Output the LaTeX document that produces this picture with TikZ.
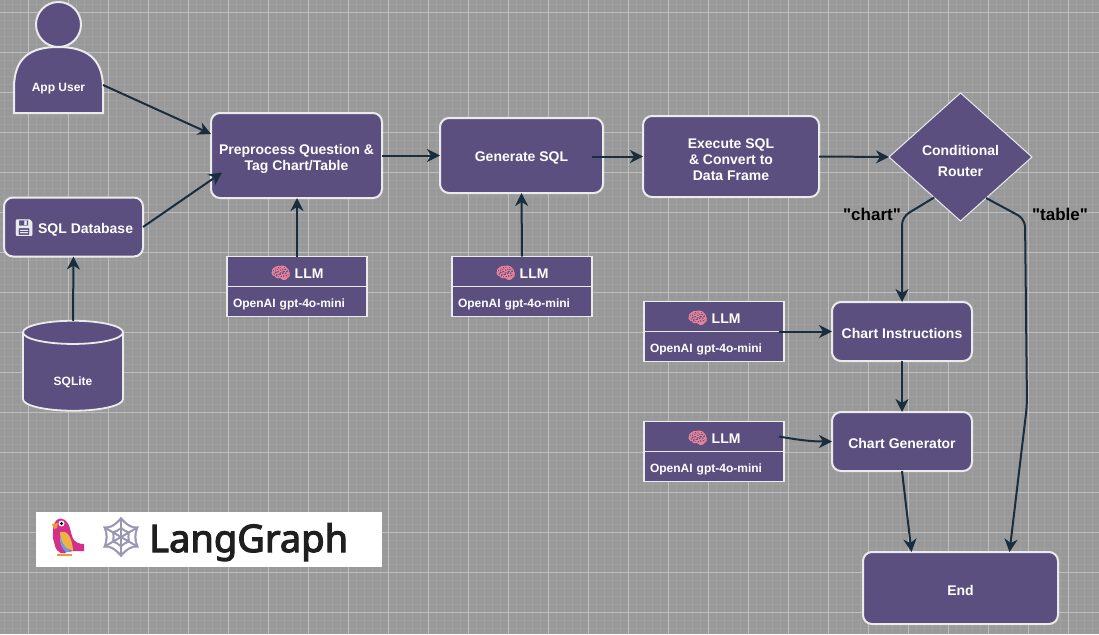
\documentclass[tikz,border=0pt]{standalone}
\usepackage{fontspec}
\setmainfont{Liberation Sans}
\newfontfamily\notefont{Liberation Sans}
\newfontfamily\emojifont{Noto Emoji}
\newfontfamily\boldemoji[FakeBold=2.5]{Noto Emoji}
\newfontfamily\webfont[FakeBold=1]{Noto Emoji}
\newfontfamily\logofont[FakeBold=3]{Noto Sans}
\usetikzlibrary{positioning,arrows.meta,calc,shapes.geometric}
\definecolor{lgPurple}{RGB}{90,79,127}
\definecolor{lgArrow}{RGB}{24,46,62}
\definecolor{lgGround}{RGB}{153,153,153}
\definecolor{lgMinor}{RGB}{160,160,160}
\definecolor{lgMajor}{RGB}{190,190,190}
\definecolor{lgEdge}{RGB}{235,235,235}
\definecolor{lgBrain}{RGB}{232,130,155}
\definecolor{lgWeb}{RGB}{152,150,178}
\definecolor{lgPink}{RGB}{213,47,140}
\definecolor{lgWing}{RGB}{238,180,65}
\definecolor{lgBlue}{RGB}{100,160,235}
\definecolor{lgBeak}{RGB}{240,150,50}
\newcommand{\brain}{{\fontsize{16}{16}\selectfont\boldemoji\color{lgBrain}\symbol{"1F9E0}}}
\begin{document}
\begin{tikzpicture}[
    x=1pt, y=-1pt,
    main node/.style={rectangle, rounded corners=9pt, draw=lgEdge, line width=2pt, fill=lgPurple, text=white, font=\fontsize{14}{16}\selectfont\bfseries, align=center, outer sep=0pt, text height=15pt},
    llm head/.style={rectangle, draw=lgEdge, line width=1.8pt, fill=lgPurple, text=white, minimum width=140pt, minimum height=30pt, font=\fontsize{14}{16}\selectfont\bfseries, outer sep=0pt, text height=15pt},
    llm body/.style={llm head, font=\fontsize{12}{14}\selectfont\bfseries, text width=128pt, align=left, text height=14pt},
    flow/.style={-{Stealth[length=13pt, width=13pt, inset=4pt]}, draw=lgArrow, line width=2pt},
    branch note/.style={font=\fontsize{17}{18}\selectfont\notefont\bfseries, text=black, inner sep=0pt}
]
  \useasboundingbox (0,0) rectangle (1099,634);
  % backdrop and grid
  \fill[lgGround] (0,0) rectangle (1099,634);
  \foreach \i in {0,...,136} \draw[lgMinor, line width=0.5pt] ({4+8*\i},0) -- ({4+8*\i},634);
  \foreach \i in {0,...,78} \draw[lgMinor, line width=0.5pt] (0,{4.5+8*\i}) -- (1099,{4.5+8*\i});
  \foreach \i in {0,...,26} \draw[lgMajor, line width=0.6pt] ({28+40*\i},0) -- ({28+40*\i},634);
  \foreach \i in {-1,...,14} \draw[lgMajor, line width=0.6pt] (0,{52.5+40*\i}) -- (1099,{52.5+40*\i});

  % main row
  \node[main node, minimum width=171pt, minimum height=85pt, text height=32pt] (prep) at (296.5,155.5) {Preprocess Question \&\\Tag Chart/Table};
  \node[main node, minimum width=163pt, minimum height=75pt] (gensql) [right=58pt of prep] {Generate SQL};
  \node[main node, minimum width=176pt, minimum height=81pt, text height=48pt] (exec) at (731,156.5) {Execute SQL\\\& Convert to\\Data Frame};
  \node[diamond, draw=lgEdge, line width=1pt, fill=lgPurple, text=white, aspect=1.1, inner sep=0pt, minimum width=143pt, minimum height=128pt, align=center, font=\fontsize{14}{21}\selectfont\bfseries, outer sep=0pt, text height=39pt] (router) at (960.5,157) {Conditional\\Router};

  % user, database
  \node[circle, draw=lgEdge, line width=2pt, fill=lgPurple, minimum size=45pt, inner sep=0pt, outer sep=0pt] (head) at (58.5,24.5) {};
  \draw[draw=lgEdge, line width=2pt, fill=lgPurple] (14,113) -- (14,88) .. controls (14,58) and (30,47) .. (58,47) .. controls (86,47) and (103,58) .. (103,88) -- (103,113) -- cycle;
  \node[inner sep=0pt, text=white, font=\fontsize{12}{14}\selectfont\bfseries] (user) at (58.5,89) {App User};
  \coordinate (userEdge) at (103,85);
  \node[main node, minimum width=139pt, minimum height=59pt] (db) at (73.5,227) {{\fontsize{16}{16}\selectfont\boldemoji\color{lgEdge}\symbol{"1F4BE}} SQL Database};
  \node[cylinder, shape border rotate=90, aspect=0.6, draw=lgEdge, line width=1.8pt, fill=lgPurple, text=white, minimum width=100pt, minimum height=90pt, inner sep=0pt, outer sep=0pt, font=\fontsize{12}{14}\selectfont\bfseries, text height=29pt] (sqlite) at (73,372) {SQLite};

  % LLM boxes
  \node[llm head] (llmPrep) at (297,271.5) {\brain{} LLM};
  \node[llm body] (modelPrep) [below=0pt of llmPrep] {OpenAI gpt-4o-mini};
  \node[llm head] (llmGen) at (522,271.5) {\brain{} LLM};
  \node[llm body] (modelGen) [below=0pt of llmGen] {OpenAI gpt-4o-mini};
  \node[llm head] (llmInstr) at (714,316.5) {\brain{} LLM};
  \node[llm body] (modelInstr) [below=0pt of llmInstr] {OpenAI gpt-4o-mini};
  \node[llm head] (llmChart) at (714,436.5) {\brain{} LLM};
  \node[llm body] (modelChart) [below=0pt of llmChart] {OpenAI gpt-4o-mini};

  % chart branch
  \node[main node, minimum width=140pt, minimum height=59pt] (instr) at (902,331.5) {Chart Instructions};
  \node[main node, minimum width=140pt, minimum height=59pt] (chartgen) [below=51pt of instr] {Chart Generator};
  \node[main node, minimum width=195pt, minimum height=72pt] (finish) at (960.5,588) {End};

  \node[branch note] (chartnote) at (872,214) {"chart"};
  \node[branch note] (tablenote) at (1060,214) {"table"};

  % connectors
  \coordinate (prepIn) at ($(prep.west)+(11,17)$);
  \coordinate (genOut) at ($(gensql.east)+(-11,1)$);
  \coordinate (chartBend) at (902,217);
  \coordinate (tableBend) at (1025,219);
  \coordinate (tableLow) at (1027,405);
  \coordinate (chartLand) at ($(finish.north)+(-49,0)$);
  \coordinate (tableLand) at ($(finish.north)+(49,0)$);
  \coordinate (userLand) at ($(prep.north west)+(0,21)$);

  \draw[flow] (userEdge) -- (userLand);
  \draw[flow] (db.east) -- (prepIn);
  \draw[flow] (sqlite.north) -- (db.south);
  \draw[flow] (prep.east) -- (gensql.west);
  \draw[flow] (genOut) -- (exec.west |- genOut);
  \draw[flow] (exec.east) -- (router.west);
  \draw[flow] (llmPrep.north) -- (llmPrep.north |- prep.south);
  \draw[flow] (llmGen.north) -- (gensql.south);
  \draw[flow, rounded corners=8pt] (router.237) -- (chartBend) -- (instr.north);
  \draw[flow, rounded corners=8pt] (router.302) -- (tableBend) -- (tableLow) -- (tableLand);
  \draw[flow] (llmInstr.south east) ++(-5,0) -- (instr.west);
  \draw[flow] (llmChart.east) ++(-5,0) to[out=-10, in=180] (chartgen.west);
  \draw[flow] (instr.south) -- (chartgen.north);
  \draw[flow] (chartgen.south) -- (chartLand);

  % logo
  \fill[white] (36,512) rectangle (382,567);
  \fill[lgPink] (53,533) .. controls (52,520) and (60,516) .. (65,520) .. controls (70,524) and (70,530) .. (72,536) .. controls (74,543) and (80,544) .. (84,544) -- (84,551) -- (68,551) .. controls (64,556) and (57,553) .. (55,546) .. controls (54,541) and (52,537) .. (53,533) -- cycle;
  \fill[lgWing] (60,532) .. controls (66,530) and (72,535) .. (73,551) -- (66,548) .. controls (62,544) and (60,538) .. (60,532) -- cycle;
  \fill[lgBlue] (60,535) .. controls (61,542) and (64,547) .. (72,552) -- (66,552) .. controls (61,548) and (59,541) .. (60,535) -- cycle;
  \fill[lgBeak] (52,524) -- (58,523) -- (57,528) -- (54,529) -- cycle;
  \fill[lgBeak] (57,554) rectangle (72,556);
  \fill[white] (61.5,523.5) circle (3pt);
  \fill[black] (61.5,523.5) circle (1.7pt);
  \node[inner sep=0pt, text=lgWeb, font=\fontsize{39}{41}\selectfont\webfont] (web) at (121,537) {\symbol{"1F578}};
  \node[inner sep=0pt, anchor=base west, text=black!88, font=\fontsize{38}{40}\selectfont\logofont] (langgraph) at (149,552) {LangGraph};
\end{tikzpicture}
\end{document}
